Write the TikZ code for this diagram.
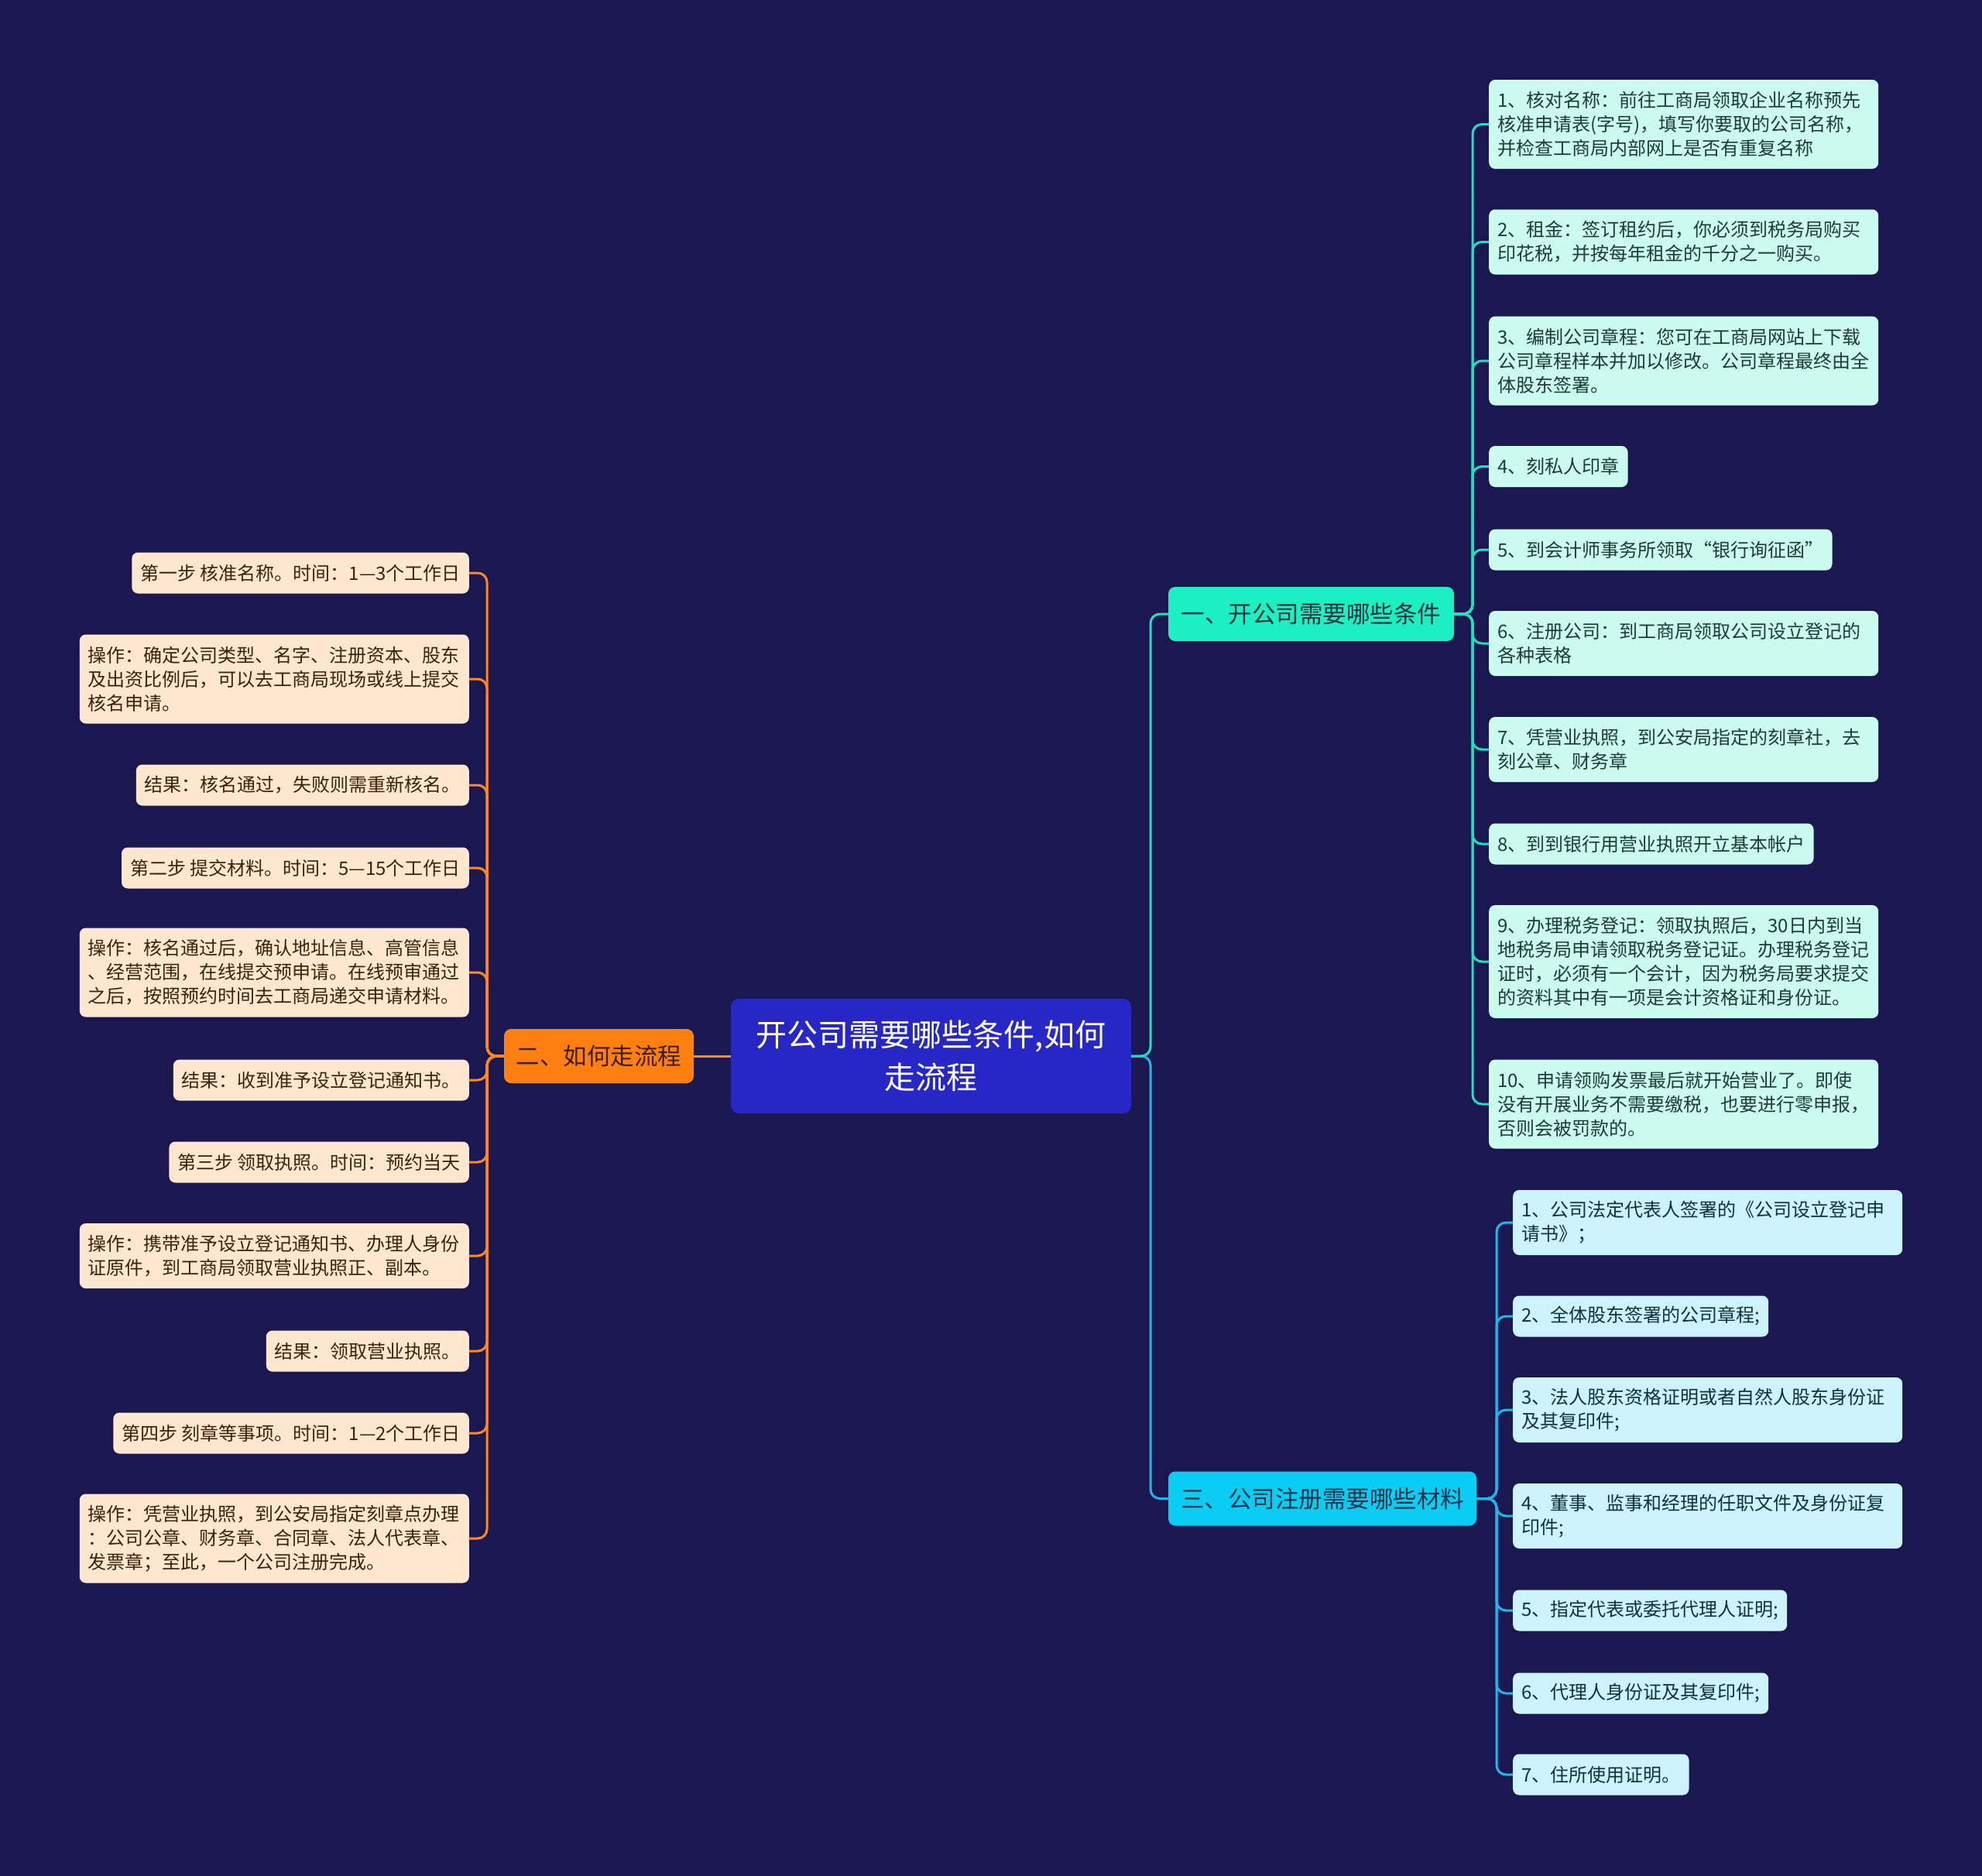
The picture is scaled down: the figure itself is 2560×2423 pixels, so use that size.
\documentclass[tikz,border=0pt]{standalone}
\usepackage{fontspec}
\newfontfamily\cjk{Noto Sans CJK SC}
\definecolor{bg}{HTML}{1B1851}
\definecolor{rootfill}{HTML}{2727C6}
\definecolor{tealfill}{HTML}{1CF0C3}
\definecolor{tealtext}{HTML}{16333F}
\definecolor{tealleaf}{HTML}{CCFBEF}
\definecolor{tealleaftext}{HTML}{1D3B38}
\definecolor{orgfill}{HTML}{FF8010}
\definecolor{orgtext}{HTML}{3B1E05}
\definecolor{orgleaf}{HTML}{FFE8CF}
\definecolor{orgleaftext}{HTML}{3B220B}
\definecolor{cyanfill}{HTML}{0ACDF3}
\definecolor{cyantext}{HTML}{0F3348}
\definecolor{cyanleaf}{HTML}{CDF4FC}
\definecolor{cyanleaftext}{HTML}{10303E}
\definecolor{tealline}{HTML}{1CE3BE}
\definecolor{orgline}{HTML}{FF8A1A}
\definecolor{cyanline}{HTML}{1FB8EC}
\begin{document}
\begin{tikzpicture}[x=1pt,y=-1pt,
  rootbox/.style={rounded corners=10pt, fill=rootfill, text=white, align=center,
    minimum width=517pt, minimum height=148pt, inner sep=0pt,
    font=\cjk\fontsize{40}{55}\selectfont},
  branchbox/.style={rounded corners=9pt, minimum height=70pt, inner sep=0pt,
    font=\cjk\fontsize{30.5}{36}\selectfont},
  leaf/.style={rounded corners=8pt, inner xsep=11pt, inner ysep=0pt,
    font=\cjk\fontsize{24}{31}\selectfont, align=left},
  one/.style={minimum height=53pt},
  two/.style={minimum height=84pt, text width=481pt},
  three/.style={minimum height=115pt, text width=481pt},
  four/.style={minimum height=146pt, text width=481pt},
  tleaf/.style={leaf, fill=tealleaf, text=tealleaftext, anchor=west},
  cleaf/.style={leaf, fill=cyanleaf, text=cyanleaftext, anchor=west},
  oleaf/.style={leaf, fill=orgleaf, text=orgleaftext, anchor=east},
  conn/.style={line width=3pt, rounded corners=12pt}
]
\fill[bg] (0,0) rectangle (2560,2423);
\useasboundingbox (0,0) rectangle (2560,2423);

% root and branches
\node[rootbox] (root) at (1202.5,1364) {开公司需要哪些条件,如何\\走流程};
\node[branchbox, fill=tealfill, text=tealtext, minimum width=369pt] (b1) at (1693.5,793) {一、开公司需要哪些条件};
\node[branchbox, fill=orgfill, text=orgtext, minimum width=245pt] (b2) at (773.5,1364) {二、如何走流程};
\node[branchbox, fill=cyanfill, text=cyantext, minimum width=398pt] (b3) at (1708,1935.5) {三、公司注册需要哪些材料};

% spine coordinates
\coordinate (rs) at (1486,1364);
\coordinate (s1) at (1902,793);
\coordinate (s2) at (629,1364);
\coordinate (s3) at (1933,1935.5);

% branch 1 leaves
\node[tleaf, three] (r1) at (1923,160.5) {1、核对名称：前往工商局领取企业名称预先\\核准申请表(字号)，填写你要取的公司名称，\\并检查工商局内部网上是否有重复名称};
\node[tleaf, two] (r2) at (1923,312.5) {2、租金：签订租约后，你必须到税务局购买\\印花税，并按每年租金的千分之一购买。};
\node[tleaf, three] (r3) at (1923,466) {3、编制公司章程：您可在工商局网站上下载\\公司章程样本并加以修改。公司章程最终由全\\体股东签署。};
\node[tleaf, one] (r4) at (1923,602.5) {4、刻私人印章};
\node[tleaf, one] (r5) at (1923,710) {5、到会计师事务所领取“银行询征函”};
\node[tleaf, two] (r6) at (1923,831) {6、注册公司：到工商局领取公司设立登记的\\各种表格};
\node[tleaf, two] (r7) at (1923,968) {7、凭营业执照，到公安局指定的刻章社，去\\刻公章、财务章};
\node[tleaf, one] (r8) at (1923,1090) {8、到到银行用营业执照开立基本帐户};
\node[tleaf, four] (r9) at (1923,1242) {9、办理税务登记：领取执照后，30日内到当\\地税务局申请领取税务登记证。办理税务登记\\证时，必须有一个会计，因为税务局要求提交\\的资料其中有一项是会计资格证和身份证。};
\node[tleaf, three] (r10) at (1923,1426) {10、申请领购发票最后就开始营业了。即使\\没有开展业务不需要缴税，也要进行零申报，\\否则会被罚款的。};

% branch 3 leaves
\node[cleaf, two] (c1) at (1954,1579) {1、公司法定代表人签署的《公司设立登记申\\请书》；};
\node[cleaf, one] (c2) at (1954,1700) {2、全体股东签署的公司章程;};
\node[cleaf, two] (c3) at (1954,1821) {3、法人股东资格证明或者自然人股东身份证\\及其复印件;};
\node[cleaf, two] (c4) at (1954,1958) {4、董事、监事和经理的任职文件及身份证复\\印件;};
\node[cleaf, one] (c5) at (1954,2080) {5、指定代表或委托代理人证明;};
\node[cleaf, one] (c6) at (1954,2187) {6、代理人身份证及其复印件;};
\node[cleaf, one] (c7) at (1954,2292) {7、住所使用证明。};

% branch 2 leaves
\node[oleaf, one] (o1) at (606,740) {第一步 核准名称。时间：1—3个工作日};
\node[oleaf, three] (o2) at (606,877) {操作：确定公司类型、名字、注册资本、股东\\及出资比例后，可以去工商局现场或线上提交\\核名申请。};
\node[oleaf, one] (o3) at (606,1014) {结果：核名通过，失败则需重新核名。};
\node[oleaf, one] (o4) at (606,1121) {第二步 提交材料。时间：5—15个工作日};
\node[oleaf, three] (o5) at (606,1256) {操作：核名通过后，确认地址信息、高管信息\\、经营范围，在线提交预申请。在线预审通过\\之后，按照预约时间去工商局递交申请材料。};
\node[oleaf, one] (o6) at (606,1395) {结果：收到准予设立登记通知书。};
\node[oleaf, one] (o7) at (606,1501) {第三步 领取执照。时间：预约当天};
\node[oleaf, two] (o8) at (606,1622) {操作：携带准予设立登记通知书、办理人身份\\证原件，到工商局领取营业执照正、副本。};
\node[oleaf, one] (o9) at (606,1745) {结果：领取营业执照。};
\node[oleaf, one] (o10) at (606,1851) {第四步 刻章等事项。时间：1—2个工作日};
\node[oleaf, three] (o11) at (606,1987) {操作：凭营业执照，到公安局指定刻章点办理\\：公司公章、财务章、合同章、法人代表章、\\发票章；至此，一个公司注册完成。};

% connectors root
\draw[conn, cyanline] (root.east) -- (rs) |- (b3.west);
\draw[conn, tealline] (root.east) -- (rs) |- (b1.west);
\draw[conn, orgline] (root.west) -- (b2.east);

% connectors branch 1
\foreach \n in {r1,r2,r3,r4,r5,r6,r7,r8,r9,r10}
  \draw[conn, tealline] (b1.east) -- (s1) |- (\n.west);
% connectors branch 3
\foreach \n in {c1,c2,c3,c4,c5,c6,c7}
  \draw[conn, cyanline] (b3.east) -- (s3) |- (\n.west);
% connectors branch 2
\foreach \n in {o1,o2,o3,o4,o5,o6,o7,o8,o9,o10,o11}
  \draw[conn, orgline] (b2.west) -- (s2) |- (\n.east);
\end{tikzpicture}
\end{document}
